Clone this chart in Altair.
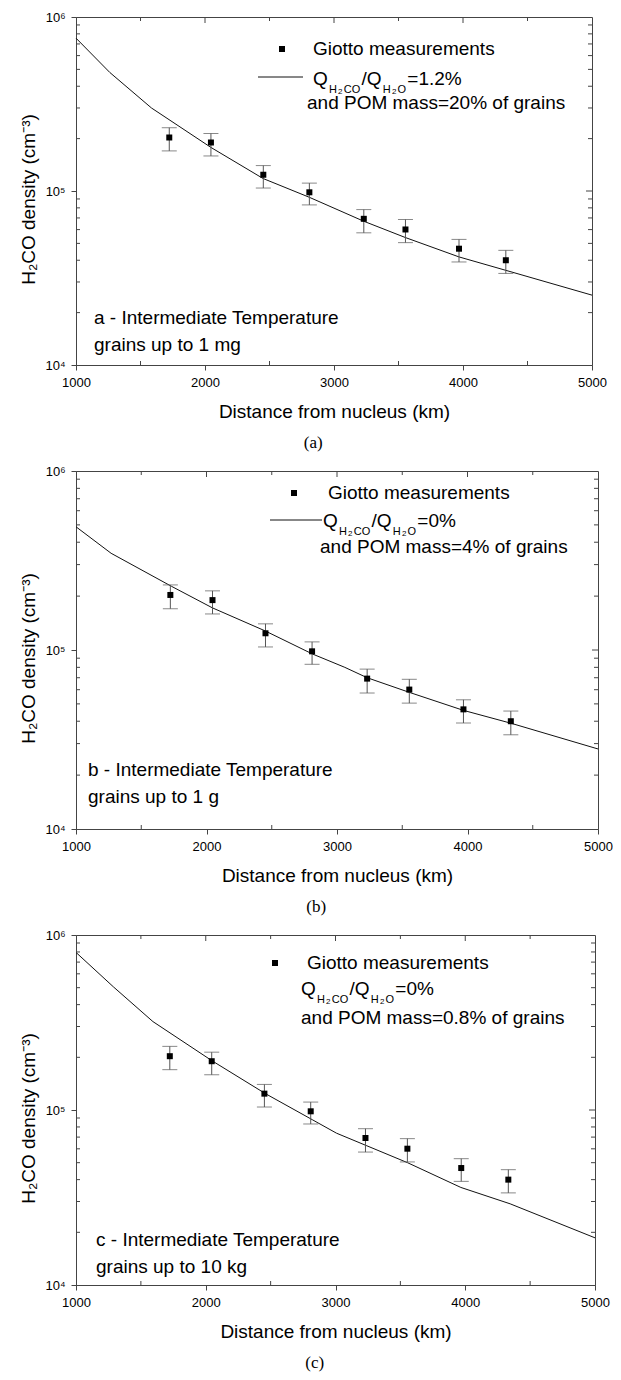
import altair as alt
import pandas as pd

# ---------------- data ----------------
dist_km = [1723, 2046, 2452, 2809, 3231, 3554, 3969, 4332]
density = [2.03e5, 1.90e5, 1.24e5, 9.83e4, 6.92e4, 6.01e4, 4.66e4, 4.0e4]
density_hi = [2.31e5, 2.14e5, 1.40e5, 1.11e5, 7.82e4, 6.86e4, 5.27e4, 4.56e4]
density_lo = [1.70e5, 1.59e5, 1.04e5, 8.32e4, 5.75e4, 5.05e4, 3.91e4, 3.36e4]

model_a_x = [1000, 1262, 1585, 2046, 2450, 2809, 3231, 3554, 3969, 4332, 5000]
model_a_y = [7.56e5, 4.8e5, 3.0e5, 1.78e5, 1.18e5, 9.2e4, 6.7e4, 5.4e4, 4.18e4, 3.5e4, 2.52e4]
model_b_x = [1000, 1269, 1731, 2045, 2448, 2812, 3060, 3231, 3554, 3969, 4332, 5000]
model_b_y = [4.88e5, 3.47e5, 2.27e5, 1.72e5, 1.28e5, 9.5e4, 8.0e4, 7.0e4, 5.8e4, 4.6e4, 3.9e4, 2.8e4]
model_c_x = [1000, 1289, 1593, 2049, 2460, 2825, 3008, 3236, 3555, 3966, 4346, 5000]
model_c_y = [7.95e5, 5.05e5, 3.2e5, 1.91e5, 1.24e5, 8.77e4, 7.37e4, 6.27e4, 5.0e4, 3.61e4, 2.91e4, 1.86e4]

x_major = [1000, 2000, 3000, 4000, 5000]
x_minor = [1500, 2500, 3500, 4500]
y_major = [1e4, 1e5, 1e6]
y_major_labels = ["10⁴", "10⁵", "10⁶"]
y_minor = [2e4, 3e4, 4e4, 5e4, 6e4, 7e4, 8e4, 9e4, 2e5, 3e5, 4e5, 5e5, 6e5, 7e5, 8e5, 9e5]

x_title = "Distance from nucleus (km)"
y_title = "H₂CO density (cm⁻³)"
legend_points = "Giotto measurements"
ratio_values = ["=1.2%", "=0%", "=0%"]
pom_lines = ["and POM mass=20% of grains", "and POM mass=4% of grains", "and POM mass=0.8% of grains"]
notes = [["a - Intermediate Temperature", "grains up to 1 mg"],
         ["b - Intermediate Temperature", "grains up to 1 g"],
         ["c - Intermediate Temperature", "grains up to 10 kg"]]
captions = ["(a)", "(b)", "(c)"]
models = [(model_a_x, model_a_y), (model_b_x, model_b_y), (model_c_x, model_c_y)]

# ---------------- styling / layout ----------------
SANS = "Liberation Sans"
SERIF = "Liberation Serif"
AX = "#444444"
FS = 19
layout = [
    dict(w=516, h=348, sq=(206, 32), txt1=(237, 32), line=(182, 227, 60), q=(237, 62), pom=(231, 86), note=(18, 301)),
    dict(w=522, h=358, sq=(218, 22), txt1=(252, 22), line=(194, 246, 49), q=(247, 50), pom=(244, 76), note=(12, 299)),
    dict(w=519, h=350, sq=(199, 28), txt1=(231, 28), line=None, q=(225, 54), pom=(225, 83), note=(20, 305)),
]

ARIAL = {'Q': 778, 'H': 722, 'C': 722, 'O': 778, '2': 556, '/': 278, '=': 584, '1': 556,
         '.': 278, '%': 889, '0': 556}


def twidth(s, size):
    return sum(ARIAL.get(c, 556) for c in s) * size / 1000.0


one = pd.DataFrame({"k": [0]})


def txt(s, x, y, size=FS, font=SANS, align="left"):
    return alt.Chart(one).mark_text(align=align, baseline="middle", font=font, fontSize=size,
                                    color="black").encode(
        x=alt.value(x), y=alt.value(y), text=alt.value(s))


def panel(i):
    L = layout[i]
    w, h = L["w"], L["h"]
    xs = alt.Scale(domain=[1000, 5000], nice=False, zero=False)
    ys = alt.Scale(type="log", domain=[1e4, 1e6], nice=False)
    mx, my = models[i]
    curve_df = pd.DataFrame({"x": mx, "y": my})
    pts = pd.DataFrame({"x": dist_km, "y": density, "hi": density_hi, "lo": density_lo})

    label_expr = ("datum.value > 5e5 ? '%s' : datum.value > 5e4 ? '%s' : '%s'"
                  % (y_major_labels[2], y_major_labels[1], y_major_labels[0]))

    curve = alt.Chart(curve_df).mark_line(color="#111111", strokeWidth=1).encode(
        x=alt.X("x:Q", scale=xs, axis=alt.Axis(
            values=x_major, format="d", title=x_title, grid=False, tickSize=5, tickColor=AX,
            domainColor=AX, labelFont=SANS, labelFontSize=13, labelColor="black", labelPadding=6,
            titleFont=SANS, titleFontSize=FS, titleFontWeight="normal", titleColor="black",
            titlePadding=13, labelFlush=False)),
        y=alt.Y("y:Q", scale=ys, axis=alt.Axis(
            values=y_major, labelExpr=label_expr, title=y_title, grid=False, tickSize=5,
            tickColor=AX, domainColor=AX, labelFont=SANS, labelFontSize=13, labelColor="black",
            labelPadding=6, titleFont=SANS, titleFontSize=FS, titleFontWeight="normal",
            titleColor="black", titlePadding=6, titleY=h / 2 + 8, labelFlush=False)),
    )
    stems = alt.Chart(pts).mark_rule(color="#555555", strokeWidth=1).encode(
        x=alt.X("x:Q", scale=xs), y=alt.Y("lo:Q", scale=ys), y2="hi:Q")
    cap_hi = alt.Chart(pts).mark_tick(orient="horizontal", size=15, thickness=1, color="#555555").encode(
        x=alt.X("x:Q", scale=xs), y=alt.Y("hi:Q", scale=ys))
    cap_lo = alt.Chart(pts).mark_tick(orient="horizontal", size=15, thickness=1, color="#555555").encode(
        x=alt.X("x:Q", scale=xs), y=alt.Y("lo:Q", scale=ys))
    points = alt.Chart(pts).mark_square(size=36, color="black", opacity=1).encode(
        x=alt.X("x:Q", scale=xs), y=alt.Y("y:Q", scale=ys))

    xmaj_in = pd.DataFrame({"x": x_major[1:-1]})
    xmin_df = pd.DataFrame({"x": x_minor})
    ymaj_in = pd.DataFrame({"y": y_major[1:-1]})
    ymin_df = pd.DataFrame({"y": y_minor})

    def xt(df, y0, y1):
        return alt.Chart(df).mark_rule(color=AX, strokeWidth=1).encode(
            x=alt.X("x:Q", scale=xs), y=alt.value(y0), y2=alt.value(y1))

    def yt(df, x0, x1):
        return alt.Chart(df).mark_rule(color=AX, strokeWidth=1).encode(
            y=alt.Y("y:Q", scale=ys), x=alt.value(x0), x2=alt.value(x1))

    ticks = [xt(xmaj_in, 0, 6), xt(xmin_df, 0, 4), xt(xmin_df, h, h - 4),
             yt(ymaj_in, w, w - 6), yt(ymin_df, w, w - 4), yt(ymin_df, 0, 4)]

    deco = []
    sx, sy = L["sq"]
    deco.append(alt.Chart(one).mark_square(size=36, color="black", opacity=1).encode(
        x=alt.value(sx), y=alt.value(sy)))
    deco.append(txt(legend_points, L["txt1"][0], L["txt1"][1]))
    if L["line"] is not None:
        x0, x1, ly = L["line"]
        deco.append(alt.Chart(one).mark_rule(color="#111111", strokeWidth=1).encode(
            x=alt.value(x0), x2=alt.value(x1), y=alt.value(ly)))
    qx, qy = L["q"]
    pieces = [("Q", FS, 0), ("H", 11, 11), ("2", 8, 13), ("CO", 11, 11), ("/Q", FS, 0),
              ("H", 11, 11), ("2", 8, 13), ("O", 11, 11), (ratio_values[i], FS, 0)]
    cx = qx
    for s, size, dy in pieces:
        deco.append(txt(s, cx, qy + dy, size=size))
        cx += twidth(s, size) + 1.2
    deco.append(txt(pom_lines[i], L["pom"][0], L["pom"][1]))
    nx, ny = L["note"]
    deco.append(txt(notes[i][0], nx, ny))
    deco.append(txt(notes[i][1], nx, ny + 27))

    return alt.layer(curve, stems, cap_hi, cap_lo, points, *ticks, *deco).properties(
        width=w, height=h,
        title=alt.TitleParams(captions[i], orient="bottom", anchor="middle", frame="bounds",
                              font=SERIF, fontSize=17, fontWeight="normal", color="black", offset=14))


chart = alt.vconcat(panel(0), panel(1), panel(2), spacing=12,
                    padding={"left": 11, "top": 2, "right": 0, "bottom": 0}
                    ).configure_view(stroke=AX, strokeWidth=1)

chart.save("out.html", embed_options={"renderer": "svg", "actions": False})
